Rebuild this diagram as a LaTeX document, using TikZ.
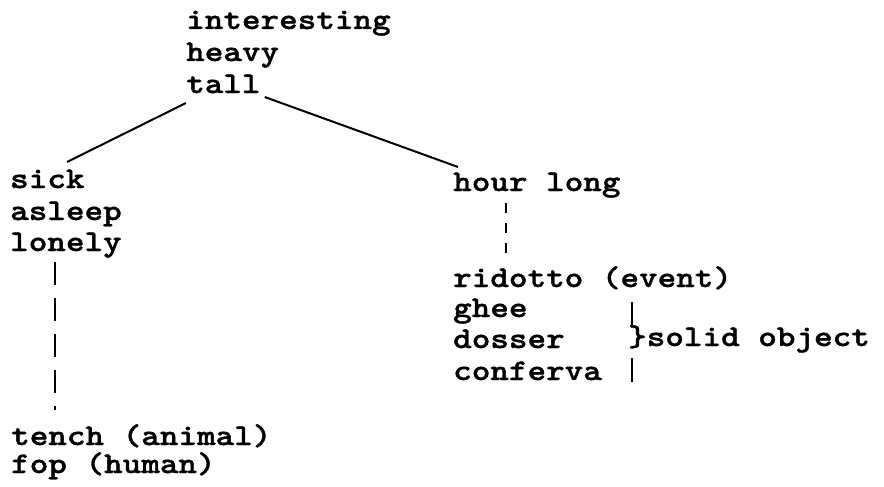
\documentclass[tikz,border=0pt]{standalone}
\usepackage{fontspec}
\newfontfamily\typeface[Extension=.otf, FakeStretch=1.18, FakeBold=1.2]{lmmonolt10-bold}
\usetikzlibrary{calc}

\begin{document}
\begin{tikzpicture}[x=1pt, y=-1pt]
        \useasboundingbox (0,0) rectangle (884,487);
        \begin{scope}[every node/.style={anchor=base west, inner sep=0, font=\fontsize{30}{31}\typeface}]
            \node (interesting) at (186,29) {interesting};
            \node (heavy) at (186,61) {heavy};
            \node (tall) at (186,93) {tall};
            \node (sick) at (10,188) {sick};
            \node (asleep) at (10,220) {asleep};
            \node (lonely) at (10,251) {lonely};
            \node (tench) at (11,445) {tench (animal)};
            \node (fop) at (11,473) {fop (human)};
            \node (hour) at (453,191) {hour long};
            \node (ridotto) at (453,287) {ridotto (event)};
            \node (ghee) at (453,317) {ghee};
            \node (dosser) at (453,348) {dosser};
            \node (conferva) at (453,380) {conferva};
            \node (solid) at (628,346) {\}solid object};
        \end{scope}
        \begin{scope}[every path/.style={line width=2pt, black}]
            \draw ($(tall.base west)+(0,10)$) -- ($(sick.base west)+(57,-26)$);
            \draw ($(tall.base east)+(4,4)$) -- ($(hour.base west)+(5,-24)$);
            \draw [dash pattern=on 23pt off 13pt] ($(lonely.base west)+(45,11)$) -- ($(tench.base west)+(44,-35)$);
            \draw [dash pattern=on 10pt off 10pt] ($(hour.base west)+(53,12)$) -- ($(ridotto.base west)+(53,-29)$);
            \draw ($(solid.base west)+(4,-44)$) -- ($(solid.base west)+(4,-19)$);
            \draw ($(solid.base west)+(4,12)$) -- ($(solid.base west)+(4,36)$);
        \end{scope}
    \end{tikzpicture}
\end{document}
